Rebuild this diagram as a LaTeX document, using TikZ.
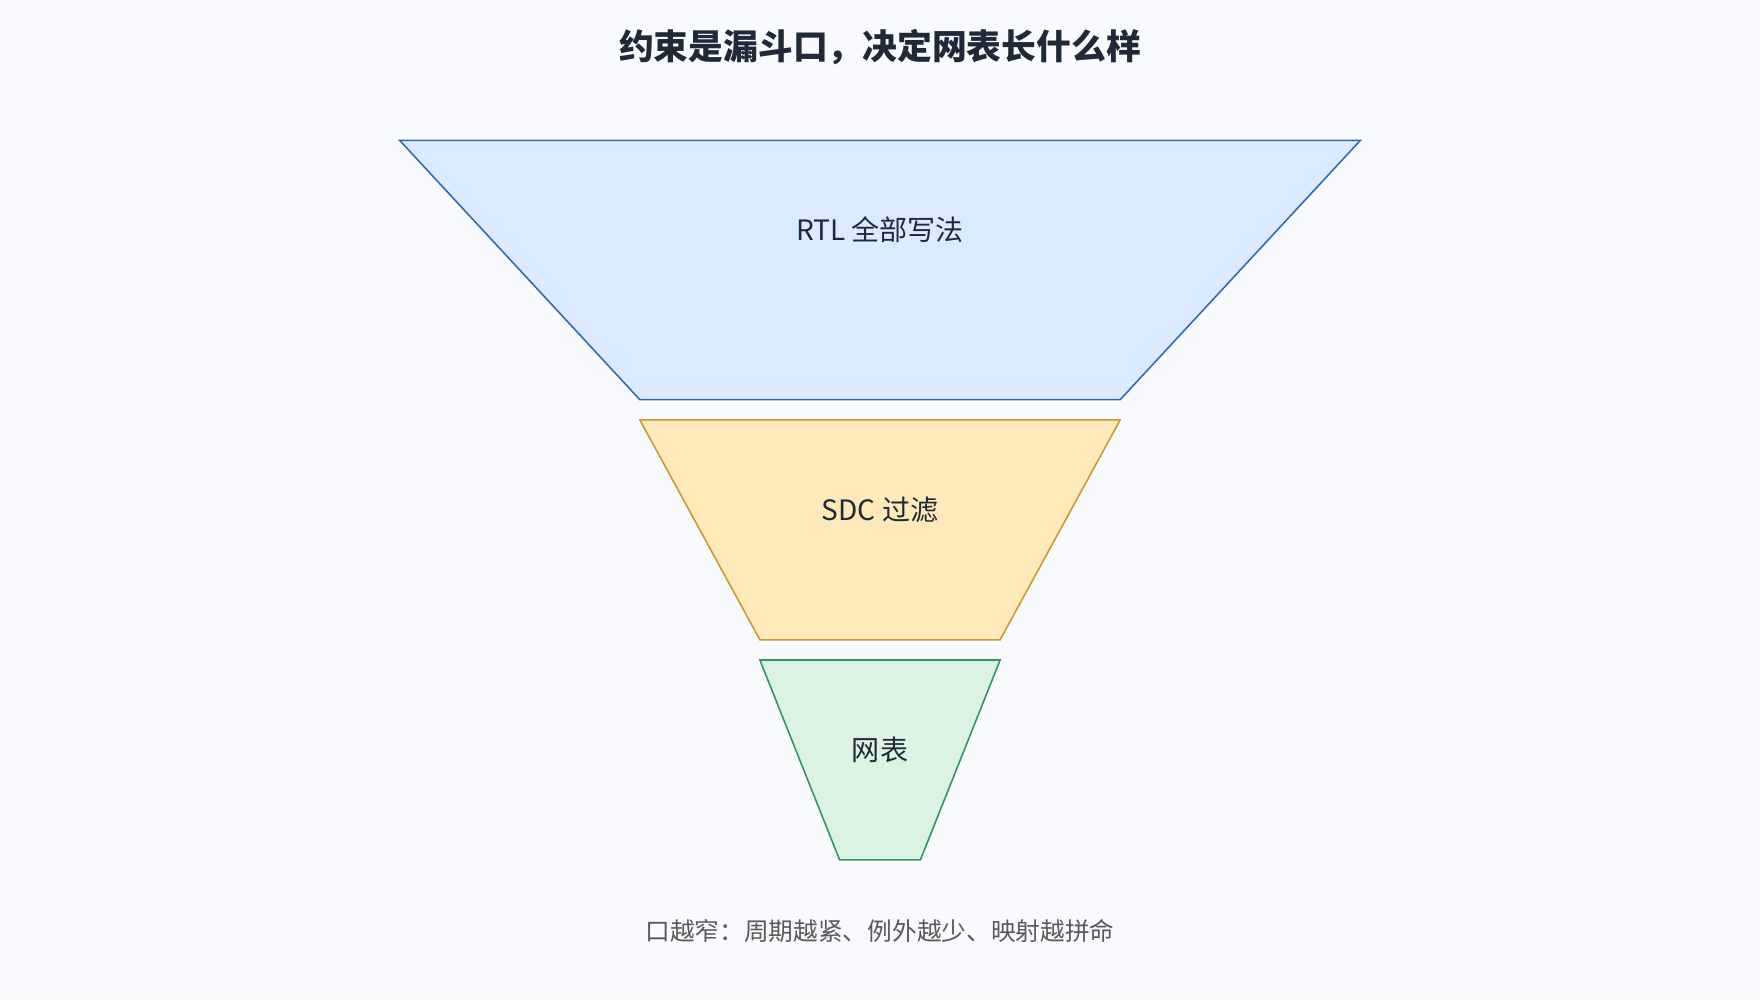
\documentclass[tikz,border=0pt]{standalone}
\usepackage{fontspec}
\setmainfont{Noto Sans CJK SC}
\begin{document}
\begin{tikzpicture}[x=0.5pt,y=-0.5pt,
  lbl/.style={font=\fontsize{12.5}{15}\selectfont, text=black!80!blue!60!black},
  fun/.style={line width=0.7pt}]
\definecolor{bg}{HTML}{F8FAFD}
\definecolor{bfill}{HTML}{DBEAFE}\definecolor{bline}{HTML}{2B6CB0}
\definecolor{ofill}{HTML}{FFE9B8}\definecolor{oline}{HTML}{C99A2E}
\definecolor{gfill}{HTML}{DCF2E3}\definecolor{gline}{HTML}{2F9460}
\definecolor{txt}{HTML}{1F2937}
\fill[bg] (0,0) rectangle (1568,891);
\useasboundingbox (0,0) rectangle (1568,891);
\node[font=\bfseries\fontsize{15.5}{18}\selectfont, text=txt] (title) at (784,42) {约束是漏斗口，决定网表长什么样};
\draw[fun, fill=bfill, draw=bline] (356,125) -- (1212,125) -- (998,356) -- (570,356) -- cycle;
\draw[fun, fill=ofill, draw=oline] (570,374) -- (998,374) -- (891,570) -- (677,570) -- cycle;
\draw[fun, fill=gfill, draw=gline] (677,588) -- (891,588) -- (820,766) -- (748,766) -- cycle;
\node[lbl, text=txt] (rtl) at (784,205) {RTL 全部写法};
\node[lbl, text=txt] (sdc) at (784,454) {SDC 过滤};
\node[lbl, text=txt] (net) at (784,668) {网表};
\node[font=\fontsize{11}{13}\selectfont, text=black!65] (cap) at (784,829) {口越窄：周期越紧、例外越少、映射越拼命};
\end{tikzpicture}
\end{document}
